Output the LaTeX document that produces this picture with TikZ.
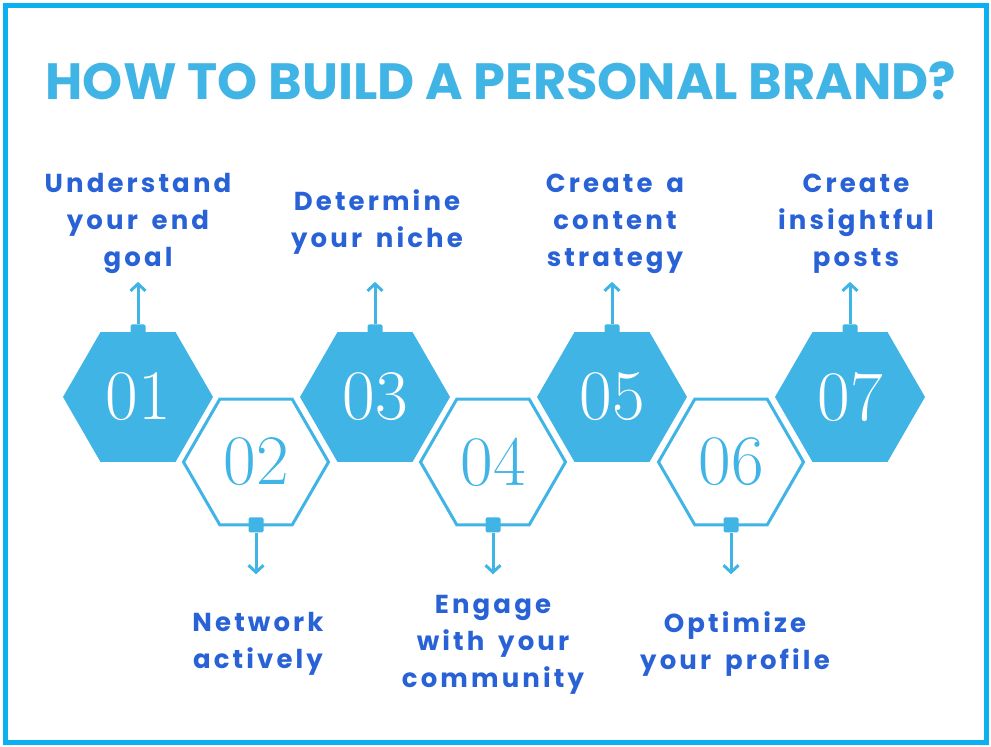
\documentclass[tikz,border=0pt]{standalone}
\usepackage{fontspec}
\usepackage{tikz}
\usetikzlibrary{shapes.geometric,arrows.meta}
\newfontfamily\labelfont{Poppins}[LetterSpace=12,WordSpace=1.6]
\newfontfamily\titlefont{Poppins}
\definecolor{myhex}{RGB}{64,180,229}
\definecolor{myframe}{RGB}{10,176,240}
\definecolor{mytext}{RGB}{41,98,214}

\begin{document}
\begin{tikzpicture}[x=1pt,y=-1pt,
  hexfull/.style={regular polygon,regular polygon sides=6,minimum size=150pt,inner sep=0pt,
    fill=myhex,text=white,font=\rmfamily\fontsize{71}{71}\selectfont},
  hexline/.style={regular polygon,regular polygon sides=6,minimum size=145pt,inner sep=0pt,
    draw=myhex,line width=3pt,text=myhex,font=\rmfamily\fontsize{71}{71}\selectfont},
  pin/.style={fill=myhex,minimum size=15pt,inner sep=0pt,rounded corners=1.5pt},
  tip/.style={draw=myhex,line width=3pt,-{Straight Barb[length=7pt,width=15pt]}},
  steptext/.style={text=mytext,align=center,font=\labelfont\bfseries\fontsize{26}{37}\selectfont}]
  \useasboundingbox (0,0) rectangle (991,747);
  \draw[myframe,line width=5pt] (5,5) rectangle (986,742);
  \node[text=myhex,font=\titlefont\bfseries\fontsize{51}{55}\selectfont] (title) at (501,81) {HOW TO BUILD A PERSONAL BRAND?};
  % hexagons
  \node[hexfull] (h1) at (138,397) {01};
  \node[hexline] (h2) at (256,462) {02};
  \node[hexfull] (h3) at (375,397) {03};
  \node[hexline] (h4) at (493,462) {04};
  \node[hexfull] (h5) at (612,397) {05};
  \node[hexline] (h6) at (731,462) {06};
  \node[hexfull] (h7) at (850,397) {07};
  % pins and arrows, up
  \node[pin] (p1) at (h1.north) {};
  \coordinate (a1) at ([yshift=50pt]h1.north);
  \draw[tip] (p1) -- (a1);
  \node[pin] (p3) at (h3.north) {};
  \coordinate (a3) at ([yshift=50pt]h3.north);
  \draw[tip] (p3) -- (a3);
  \node[pin] (p5) at (h5.north) {};
  \coordinate (a5) at ([yshift=50pt]h5.north);
  \draw[tip] (p5) -- (a5);
  \node[pin] (p7) at (h7.north) {};
  \coordinate (a7) at ([yshift=50pt]h7.north);
  \draw[tip] (p7) -- (a7);
  % pins and arrows, down
  \node[pin] (p2) at ([yshift=1.5pt]h2.south) {};
  \coordinate (a2) at ([yshift=-48pt]h2.south);
  \draw[tip] (p2) -- (a2);
  \node[pin] (p4) at ([yshift=1.5pt]h4.south) {};
  \coordinate (a4) at ([yshift=-48pt]h4.south);
  \draw[tip] (p4) -- (a4);
  \node[pin] (p6) at ([yshift=1.5pt]h6.south) {};
  \coordinate (a6) at ([yshift=-48pt]h6.south);
  \draw[tip] (p6) -- (a6);
  % labels
  \node[steptext] (t1) at (138,223) {Understand\\your end\\goal};
  \node[steptext] (t3) at (377,222) {Determine\\your niche};
  \node[steptext] (t5) at (615,224) {Create a\\content\\strategy};
  \node[steptext] (t7) at (856,224) {Create\\insightful\\posts};
  \node[steptext] (t2) at (258,644) {Network\\actively};
  \node[steptext] (t4) at (493,645) {Engage\\with your\\community};
  \node[steptext] (t6) at (735,644) {Optimize\\your profile};
\end{tikzpicture}
\end{document}
